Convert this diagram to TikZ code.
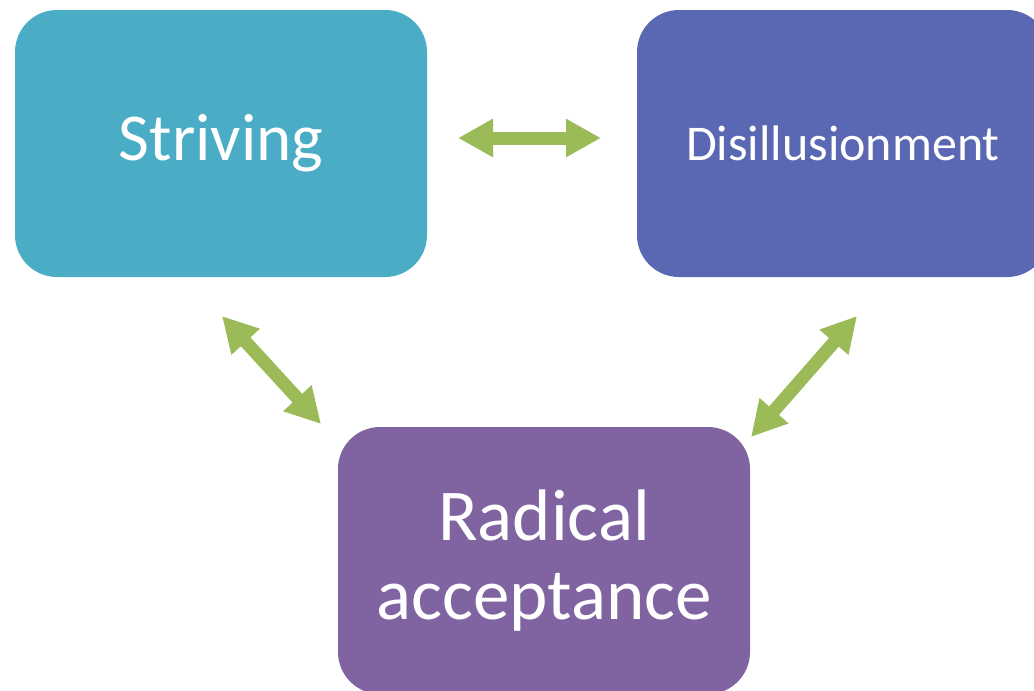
\documentclass[tikz,border=0pt]{standalone}
\usepackage{fontspec}
\setmainfont{Carlito}
\usetikzlibrary{arrows.meta, positioning}
\definecolor{StriveBlue}{HTML}{4BACC6}
\definecolor{DisIndigo}{HTML}{5A67B3}
\definecolor{AcceptPurple}{HTML}{8064A2}
\definecolor{ArrowGreen}{HTML}{9BBB59}

\begin{document}
\begin{tikzpicture}[
    x=1pt, y=-1pt,
    phase/.style={rounded corners=42pt, align=center, text=white,
        minimum width=412pt, minimum height=267pt, inner sep=0pt},
    link/.style={{Triangle[length=35pt, width=36pt]}-{Triangle[length=35pt, width=36pt]},
        line width=13pt, ArrowGreen},
]
\useasboundingbox (0,0) rectangle (1034,691);

% phases
\node[phase, fill=StriveBlue, font=\fontsize{67}{80}\selectfont] (striving) at (221,143.5)
    {Striving};
\node[phase, fill=DisIndigo, font=\fontsize{50}{60}\selectfont] (disill) at (843,143.5)
    {Disillusionment};
\node[phase, fill=AcceptPurple, font=\fontsize{73}{79}\selectfont] (accept) at (544,560.5)
    {Radical\\acceptance};

% arrow ends
\coordinate (sd1) at (458,138);
\coordinate (sd2) at (601,138);
\coordinate (sa1) at (222,316);
\coordinate (sa2) at (321,424);
\coordinate (da1) at (857,316);
\coordinate (da2) at (751,437);

\foreach \a/\b in {sd1/sd2, sa1/sa2, da1/da2}
    \draw[link] (\a) -- (\b);

\end{tikzpicture}
\end{document}
